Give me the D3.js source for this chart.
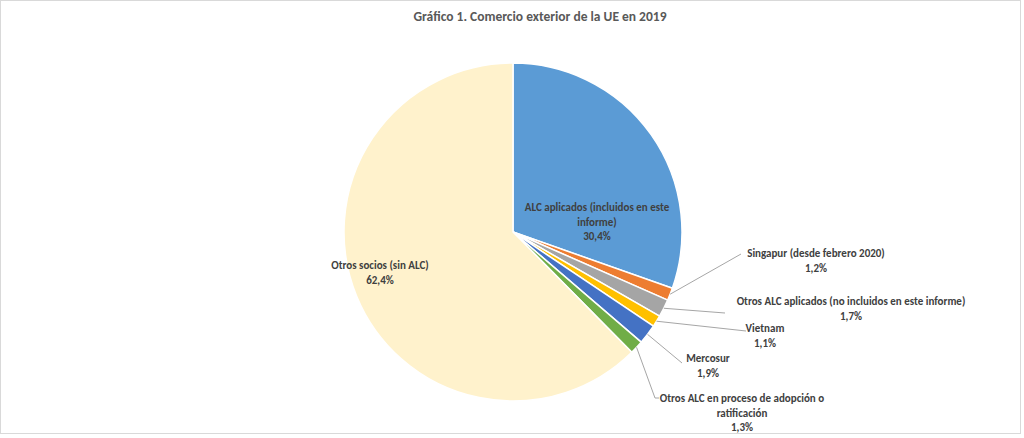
<!DOCTYPE html>
<html><head><meta charset="utf-8">
<script src="https://cdn.jsdelivr.net/npm/d3@7"></script>
<style>
html,body{margin:0;padding:0;background:#fff;}
svg text{font-family:Carlito,Calibri,Lato,"Liberation Sans",sans-serif;font-weight:bold;fill:#404040;}
</style></head><body>
<svg id="chart" width="1024" height="438"></svg>
<script>
const categories = [
  "ALC aplicados (incluidos en este informe)",
  "Singapur (desde febrero 2020)",
  "Otros ALC aplicados (no incluidos en este informe)",
  "Vietnam",
  "Mercosur",
  "Otros ALC en proceso de adopción o ratificación",
  "Otros socios (sin ALC)"
];
const values = [30.4, 1.2, 1.7, 1.1, 1.9, 1.3, 62.4];
const valueLabels = ["30,4%", "1,2%", "1,7%", "1,1%", "1,9%", "1,3%", "62,4%"];
const colors = ["#5B9BD5", "#ED7D31", "#A5A5A5", "#FFC000", "#4472C4", "#70AD47", "#FFF2CC"];
const title = "Gráfico 1. Comercio exterior de la UE en 2019";

// label layout (wrapped lines, label centre, leader end)
const labelLines = [
  ["ALC aplicados (incluidos en este", "informe)"],
  ["Singapur (desde febrero 2020)"],
  ["Otros ALC aplicados (no incluidos en este informe)"],
  ["Vietnam"],
  ["Mercosur"],
  ["Otros ALC en proceso de adopción o", "ratificación"],
  ["Otros socios (sin ALC)"]
];
const labelPos = [
  {x: 597, y: 211, leader: null},
  {x: 816, y: 257, leader: [[741, 254]]},
  {x: 851, y: 305, leader: [[725, 313]]},
  {x: 765, y: 332, leader: [[746, 331]]},
  {x: 708, y: 362, leader: [[682, 363]]},
  {x: 742, y: 402, leader: [[655, 398], [659, 398]]},
  {x: 380, y: 269, leader: null}
];

const svg = d3.select("#chart");
const W = 1024, H = 438;
const cx = 513, cy = 232, R = 169;

svg.append("rect").attr("x", 0.5).attr("y", 0.5).attr("width", 1020).attr("height", 433)
  .attr("fill", "#fff").attr("stroke", "#D9D9D9").attr("stroke-width", 1);

svg.append("text").attr("x", 540).attr("y", 21).attr("text-anchor", "middle")
  .style("font-size", "13.5px").style("fill", "#595959").text(title);

const data = categories.map((c, i) => ({name: c, value: values[i], i}));
const pie = d3.pie().value(d => d.value).sort(null).startAngle(0).endAngle(2 * Math.PI);
const arcs = pie(data);
const arc = d3.arc().innerRadius(0).outerRadius(R);
const g = svg.append("g").attr("transform", `translate(${cx},${cy})`);

g.selectAll("path.slice").data(arcs).join("path").attr("class", "slice")
  .attr("d", arc).attr("fill", d => colors[d.data.i])
  .attr("stroke", "#fff").attr("stroke-width", 1.5).attr("stroke-linejoin", "round");

// leader lines
arcs.forEach(a => {
  const lp = labelPos[a.data.i];
  if (!lp.leader) return;
  const m = (a.startAngle + a.endAngle) / 2;
  const start = [cx + R * Math.sin(m), cy - R * Math.cos(m)];
  const pts = [start].concat(lp.leader);
  svg.append("path").attr("d", d3.line()(pts)).attr("fill", "none")
    .attr("stroke", "#A6A6A6").attr("stroke-width", 1);
});

// labels
arcs.forEach(a => {
  const i = a.data.i, lp = labelPos[i];
  const lines = labelLines[i].concat([valueLabels[i]]);
  const t = svg.append("text").attr("text-anchor", "middle").style("font-size", "11px");
  lines.forEach((l, k) => {
    t.append("tspan").attr("x", lp.x).attr("y", lp.y + k * 14.5).text(l);
  });
});
</script>
</body></html>
